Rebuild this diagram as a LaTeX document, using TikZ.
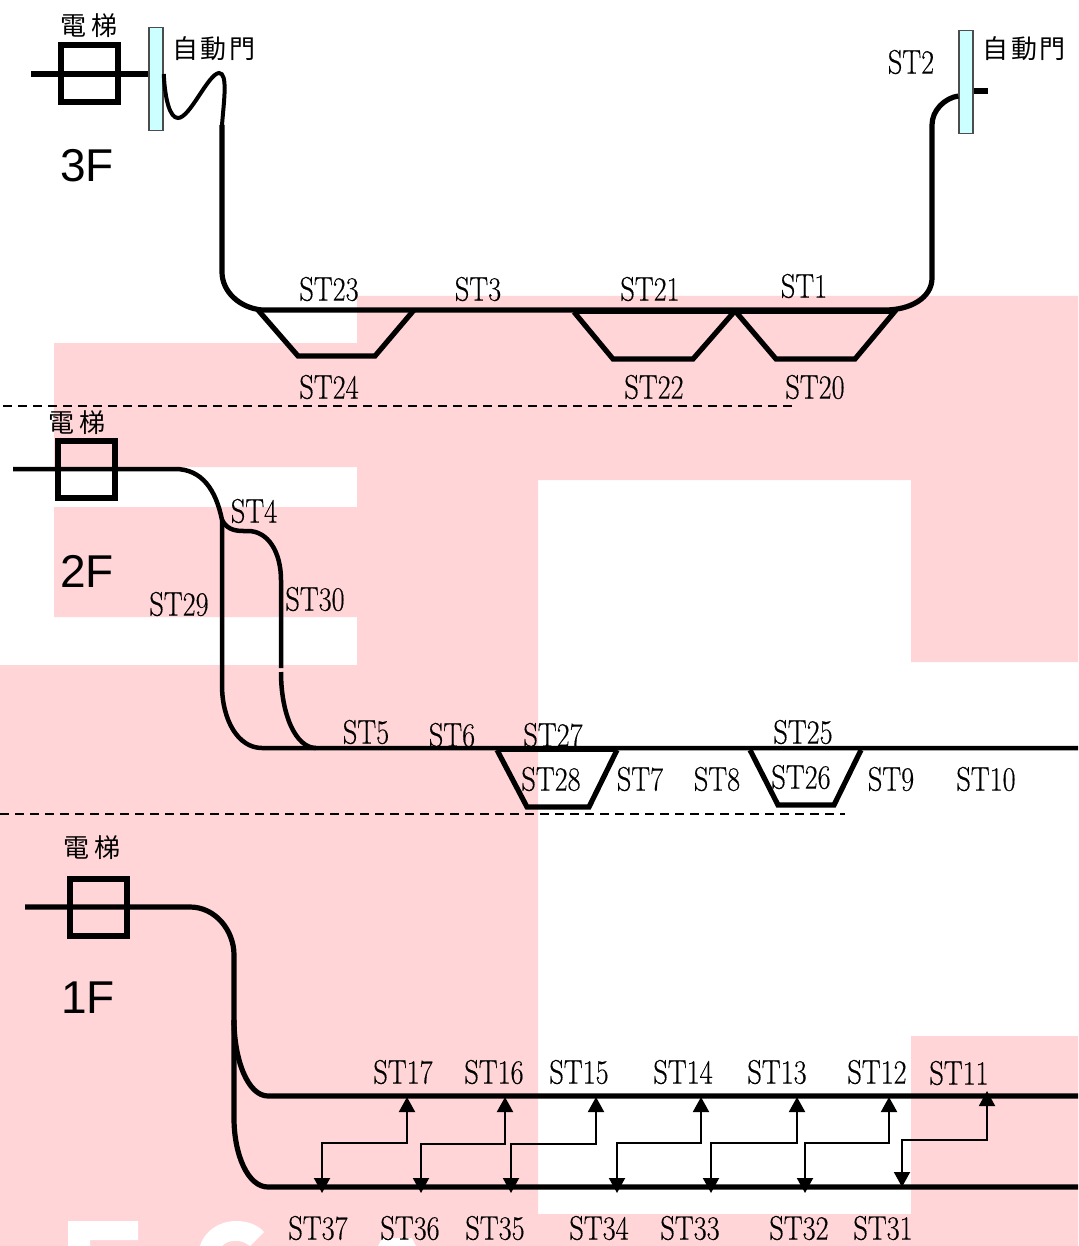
\documentclass[tikz,border=0pt]{standalone}
\usepackage{fontspec}
\usepackage{xcolor}
\usetikzlibrary{arrows.meta,positioning,calc}
\newfontfamily\cjk{Noto Sans CJK TC}
\newfontfamily\arial{Liberation Sans}
\newfontfamily\stfont[FakeBold=0.4]{Latin Modern Roman}
\definecolor{wmpink}{HTML}{FFD5D7}
\definecolor{doorfill}{HTML}{CCFFFF}
\begin{document}
\begin{tikzpicture}[
x=1pt,y=-1pt,
track/.style={line width=5.2pt,line cap=butt},
thin track/.style={line width=4.5pt},
dashline/.style={line width=1.3pt,dash pattern=on 9pt off 6pt},
lift/.style={rectangle,draw,line width=6pt,minimum width=57pt,minimum height=57pt,inner sep=0pt},
door/.style={rectangle,draw=black!70,line width=1.5pt,fill=doorfill,minimum width=14pt,minimum height=103pt,inner sep=0pt},
st/.style={font=\stfont\fontsize{34}{34}\selectfont,xscale=.83,inner sep=0pt,yshift=1pt},
floorlabel/.style={font=\arial\fontsize{46}{46}\selectfont,inner sep=0pt},
cjklabel/.style={font=\cjk\fontsize{26}{26}\selectfont,inner sep=0pt},
link/.style={{Triangle[length=15pt,width=16pt]}-{Triangle[length=15pt,width=16pt]},line width=2pt}
]
\useasboundingbox (0,0) rectangle (1078,1246);
% watermark
\fill[wmpink] (357,296) -- (1078,296) -- (1078,662) -- (911,662) -- (911,480) -- (538,480)
  -- (538,1214) -- (911,1214) -- (911,1036) -- (1078,1036) -- (1078,1246) -- (0,1246) -- (0,665)
  -- (357,665) -- (357,617) -- (54,617) -- (54,507) -- (357,507) -- (357,467) -- (54,467)
  -- (54,343) -- (357,343) -- cycle;
\fill[white] (68,1246) -- (68,1221) -- (138,1221) -- (138,1240) -- (90,1240) -- (90,1246) -- cycle;
\fill[white] (200,1246) .. controls (205,1230) and (220,1221) .. (236,1221) .. controls (248,1221) and (258,1225) .. (264,1232)
  -- (250,1246) .. controls (240,1238) and (228,1240) .. (222,1246) -- cycle;
\fill[white] (378,1246) -- (382,1238) -- (412,1238) -- (416,1246) -- cycle;

% floor dividers
\coordinate (div3a) at (3,406);
\coordinate (div3b) at (795,406);
\coordinate (div2a) at (0,814);
\coordinate (div2b) at (845,814);
\draw[dashline] (div3a) -- (div3b);
\draw[dashline] (div2a) -- (div2b);

% 3F
\coordinate (s3) at (31,74);
\node[lift] (lift3) at (89.5,74) {};
\node[door] (door3a) at (156,79) {};
\node[door] (door3b) at (966,82) {};
\coordinate (w3) at (222,125);
\coordinate (b3) at (222,272);
\coordinate (c3) at (262,310);
\coordinate (e3) at (885,310);
\coordinate (r3) at (932,278);
\coordinate (t3) at (932,125);
\coordinate (x3) at (988,91);
\draw[track] (s3) -- (door3a.west |- s3);
\draw[line width=4pt] (door3a.east |- s3) .. controls (165,100) and (170,118) .. (178,118)
  .. controls (190,118) and (208,74) .. (219,73) .. controls (228,73) and (224,100) .. (w3);
\draw[track] (w3) -- (b3) .. controls (222,292) and (240,308) .. (c3) -- (e3)
  .. controls (910,310) and (932,298) .. (r3) -- (t3) .. controls (932,110) and (945,98) .. (door3b.west |- 0,96);
\draw[track] (door3b.east |- x3) -- (x3);
\draw[track] (258,310) -- (298,356) -- (375,356) -- (414,310);
\draw[track] (574,312) -- (613,359) -- (693,359) -- (734,312);
\draw[track] (736,312) -- (776,359) -- (855,359) -- (896,310);
\draw[line width=2pt] (574,313) -- (896,313);

% 2F
\coordinate (s2) at (13,469);
\node[lift] (lift2) at (86.5,469) {};
\coordinate (k2) at (175,469);
\coordinate (j2) at (222,520);
\coordinate (p2) at (222,685);
\coordinate (q2) at (262,748);
\coordinate (e2) at (1078,748);
\coordinate (u2) at (281,580);
\coordinate (v2) at (281,668);
\coordinate (v2b) at (281,672);
\coordinate (w2) at (316,748);
\draw[thin track] (s2) -- (k2) .. controls (202,469) and (216,490) .. (j2) -- (p2)
  .. controls (222,720) and (238,748) .. (q2) -- (e2);
\draw[thin track] (j2) .. controls (228,532) and (240,531) .. (248,531) .. controls (268,531) and (281,552) .. (u2) -- (v2);
\draw[thin track] (v2b) .. controls (281,715) and (296,748) .. (w2);
\draw[track] (497,750) -- (527,807) -- (589,807) -- (617,750);
\draw[track] (750,750) -- (778,805) -- (834,805) -- (861,750);
\draw[line width=2pt] (497,751) -- (617,751);

% 1F
\coordinate (s1) at (25,907);
\node[lift] (lift1) at (98,907.5) {};
\coordinate (k1) at (190,907);
\coordinate (j1) at (234,955);
\coordinate (m1) at (234,1020);
\coordinate (a1) at (268,1096);
\coordinate (ae1) at (1078,1096);
\coordinate (n1) at (234,1118);
\coordinate (b1) at (268,1187);
\coordinate (be1) at (1078,1187);
\draw[track] (s1) -- (k1) .. controls (215,907) and (234,930) .. (j1) -- (n1)
  .. controls (234,1155) and (248,1187) .. (b1) -- (be1);
\draw[track] (m1) .. controls (234,1060) and (248,1096) .. (a1) -- (ae1);

% links between the two lines
\foreach \ux/\dx/\my/\uy/\dy in {407/322/1143/1097/1193,505/421/1144/1097/1193,596/511/1144/1097/1193,701/617/1143/1097/1193,797/711/1143/1097/1193,889/805/1143/1097/1193,987/902/1140/1091/1187}{
  \coordinate (up\ux) at (\ux,\uy);
  \coordinate (dn\dx) at (\dx,\dy);
  \draw[link] (dn\dx) |- (\ux,\my) -- (up\ux);
}

% labels
\node[cjklabel] (lb3) at (89,26) {電\,梯};
\node[cjklabel] (doorlb3a) at (214,49) {自\hspace{3pt}動\hspace{3pt}門};
\node[cjklabel] (doorlb3b) at (1024,49) {自\hspace{3pt}動\hspace{3pt}門};
\node[floorlabel] (fl3) at (87,166) {3F};
\node[cjklabel] (lb2) at (77,423) {電\,梯};
\node[floorlabel] (fl2) at (87,571) {2F};
\node[cjklabel] (lb1) at (92,848) {電\,梯};
\node[floorlabel] (fl1) at (88,998) {1F};
\foreach \name/\px/\py in {ST23/329/290,ST3/478/290,ST21/650/290,ST1/804/287,ST24/329/388,ST22/654/388,ST20/815/388,ST2/911/63,
  ST4/254/512,ST29/179/605,ST30/315/600,ST5/366/733,ST6/452/736,ST27/553/736,ST25/803/733,ST28/551/780,ST7/640/780,ST8/717/780,ST26/801/778,ST9/891/780,ST10/986/780,
  ST17/403/1073,ST16/494/1073,ST15/579/1073,ST14/683/1073,ST13/777/1073,ST12/877/1073,ST11/959/1074,
  ST37/318/1229,ST36/410/1229,ST35/495/1229,ST34/599/1229,ST33/690/1229,ST32/799/1229,ST31/883/1229}{
  \node[st] (\name) at (\px,\py) {\name};
}
\end{tikzpicture}
\end{document}
